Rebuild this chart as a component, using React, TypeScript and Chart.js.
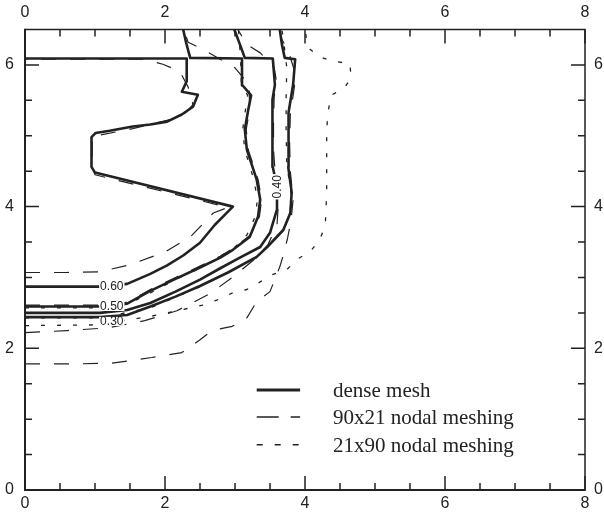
import { useEffect, useRef } from "react";
import { Chart, registerables } from "chart.js";

Chart.register(...registerables);

type Pt = [number, number];

// axes
const xTickLabels = [0, 2, 4, 6, 8];
const yTickLabels = [0, 2, 4, 6];
const xRange: Pt = [0, 8];
const yRange: Pt = [0, 6.5];
const minorStep = 0.5;

const seriesNames = ["dense mesh", "90x21 nodal meshing", "21x90 nodal meshing"];

// dense mesh contours
const dense060: Pt[] = [
  [0, 2.87], [1.07, 2.87], [1.46, 2.91], [1.79, 3.05], [2.03, 3.17], [2.26, 3.31], [2.5, 3.49],
  [2.71, 3.74], [2.85, 3.88], [2.97, 4.0], [1.0, 4.48], [0.95, 4.56], [0.95, 4.98], [1.01, 5.04],
  [1.21, 5.07], [1.54, 5.13], [1.79, 5.16], [2.03, 5.2], [2.24, 5.3], [2.4, 5.41], [2.47, 5.58],
  [2.24, 5.62], [2.31, 5.77], [2.31, 6.09], [0, 6.09],
];
const dense050: Pt[] = [
  [0, 2.59], [1.07, 2.59], [1.46, 2.63], [1.79, 2.81], [2.15, 2.98], [2.5, 3.14], [2.79, 3.28],
  [2.97, 3.39], [3.21, 3.57], [3.33, 3.86], [3.36, 4.1], [3.31, 4.38], [3.17, 4.8], [3.14, 5.09],
  [3.19, 5.37], [3.23, 5.57], [3.11, 5.71], [3.1, 6.09], [2.36, 6.1], [2.3, 6.32], [2.26, 6.5],
];
const dense040: Pt[] = [
  [0, 2.5], [1.07, 2.5], [1.46, 2.54], [1.79, 2.64], [2.15, 2.8], [2.5, 2.97], [2.79, 3.13],
  [3.07, 3.28], [3.36, 3.43], [3.5, 3.63], [3.6, 3.96], [3.6, 4.28], [3.54, 4.56], [3.53, 5.04],
  [3.54, 5.51], [3.57, 5.72], [3.54, 6.09], [3.14, 6.1], [3.07, 6.29], [2.99, 6.5],
];
const dense030: Pt[] = [
  [0, 2.44], [1.07, 2.44], [1.46, 2.47], [1.79, 2.59], [2.15, 2.73], [2.5, 2.88], [2.9, 3.07],
  [3.31, 3.29], [3.46, 3.43], [3.69, 3.67], [3.79, 3.91], [3.81, 4.2], [3.76, 4.56], [3.76, 5.04],
  [3.77, 5.33], [3.83, 5.72], [3.86, 6.08], [3.71, 6.1], [3.67, 6.29], [3.64, 6.5],
];

// 90x21 nodal meshing contours
const mesh90a: Pt[] = [
  [0, 3.07], [0.6, 3.07], [1.07, 3.08], [1.5, 3.18], [2.0, 3.36], [2.36, 3.57], [2.69, 3.91],
  [2.9, 3.99], [1.0, 4.45], [0.96, 4.56], [0.96, 4.99], [1.54, 5.1], [2.24, 5.27], [2.4, 5.44],
  [2.33, 5.69], [2.21, 5.91], [1.97, 6.01], [1.71, 6.08], [0, 6.08],
];
const mesh90b: Pt[] = [
  [0, 2.61], [1.07, 2.61], [1.46, 2.65], [1.79, 2.83], [2.15, 3.0], [2.5, 3.16], [2.79, 3.3],
  [2.97, 3.41], [3.21, 3.59], [3.35, 3.86], [3.38, 4.1], [3.33, 4.38], [3.19, 4.8], [3.16, 5.09],
  [3.21, 5.37], [3.2, 5.72], [3.0, 5.96], [2.54, 6.22], [2.33, 6.32], [2.27, 6.5],
];
const mesh90c: Pt[] = [
  [0, 2.22], [0.6, 2.25], [1.19, 2.29], [1.71, 2.39], [2.17, 2.53], [2.64, 2.77], [2.99, 3.02],
  [3.27, 3.25], [3.47, 3.46], [3.6, 3.74], [3.62, 4.05], [3.58, 4.4], [3.55, 4.8], [3.55, 5.2],
  [3.56, 5.55], [3.59, 5.78], [3.56, 5.96], [3.36, 6.17], [3.17, 6.29], [3.04, 6.5],
];
const mesh90d: Pt[] = [
  [0, 1.78], [0.71, 1.78], [1.24, 1.79], [1.81, 1.87], [2.24, 1.94], [2.5, 2.12], [2.67, 2.25],
  [2.96, 2.31], [3.17, 2.43], [3.31, 2.66], [3.5, 2.8], [3.64, 3.15], [3.7, 3.35], [3.75, 3.55],
  [3.8, 3.8], [3.83, 4.1], [3.79, 4.5], [3.78, 4.9], [3.79, 5.3], [3.85, 5.7], [3.84, 5.95],
  [3.77, 6.17], [3.66, 6.38], [3.64, 6.5],
];

// 21x90 nodal meshing contours
const mesh21a: Pt[] = [
  [0, 2.32], [1.0, 2.33], [1.79, 2.45], [2.36, 2.57], [2.54, 2.61], [2.74, 2.68], [2.96, 2.78],
  [3.17, 2.83], [3.33, 2.92], [3.53, 3.04], [3.74, 3.11], [3.89, 3.26], [4.07, 3.36], [4.21, 3.53],
  [4.29, 3.74], [4.31, 4.2], [4.31, 5.09], [4.33, 5.33], [4.37, 5.57], [4.56, 5.67], [4.66, 5.82],
  [4.64, 6.02], [4.41, 6.05], [4.19, 6.12], [4.04, 6.25], [4.0, 6.5],
];
const mesh21b: Pt[] = [
  [0, 2.57], [1.07, 2.57], [1.46, 2.62], [1.79, 2.78], [2.15, 2.97], [2.5, 3.13], [2.79, 3.3],
  [3.0, 3.43], [3.17, 3.6], [3.29, 3.86], [3.32, 4.1], [3.27, 4.38], [3.14, 4.8], [3.11, 5.09],
  [3.15, 5.37], [3.18, 5.57], [3.09, 5.75], [3.08, 6.09], [3.05, 6.5],
];
const mesh21c: Pt[] = [
  [0, 2.43], [1.07, 2.43], [1.79, 2.57], [2.5, 2.87], [3.31, 3.28], [3.69, 3.66], [3.79, 3.91],
  [3.8, 4.2], [3.74, 4.59], [3.73, 5.09], [3.73, 5.54], [3.74, 5.96], [3.7, 6.29], [3.67, 6.5],
];

// contour level labels
const contourLabels = [
  { text: "0.60", x: 1.24, y: 2.87, rot: 0 },
  { text: "0.50", x: 1.24, y: 2.59, rot: 0 },
  { text: "0.30", x: 1.24, y: 2.38, rot: 0 },
  { text: "0.40", x: 3.6, y: 4.28, rot: -Math.PI / 2 },
];

// legend rows (data coords)
const legendX: Pt = [3.31, 3.93];
const legendTextX = 4.4;
const legendY = [1.41, 1.03, 0.64];

const INK = "#222";
const DASH = [15, 14];
const DOT = [4, 12];

const styleOf = (k: number) =>
  k === 0
    ? { borderWidth: 2.6, borderDash: [] as number[] }
    : k === 1
    ? { borderWidth: 1.2, borderDash: DASH }
    : { borderWidth: 1.3, borderDash: DOT };

const mk = (data: Pt[], k: number) => ({
  label: seriesNames[k],
  data: data.map(([x, y]) => ({ x, y })),
  showLine: true,
  pointRadius: 0,
  pointHoverRadius: 0,
  borderColor: INK,
  backgroundColor: INK,
  borderCapStyle: "butt",
  borderJoinStyle: "round",
  fill: false,
  tension: 0,
  ...styleOf(k),
});

const decorations = {
  id: "decorations",
  afterDatasetsDraw(chart: any) {
    const { ctx, chartArea: a, scales } = chart;
    const sx = scales.x;
    const sy = scales.y;
    ctx.save();

    // contour labels
    ctx.font = "12px 'Liberation Sans', Arial, sans-serif";
    ctx.textAlign = "center";
    ctx.textBaseline = "middle";
    for (const l of contourLabels) {
      const px = sx.getPixelForValue(l.x);
      const py = sy.getPixelForValue(l.y);
      ctx.save();
      ctx.translate(px, py);
      ctx.rotate(l.rot);
      const w = ctx.measureText(l.text).width + 2;
      ctx.fillStyle = "#fff";
      ctx.fillRect(-w / 2, -4.5, w, 9);
      ctx.fillStyle = INK;
      ctx.fillText(l.text, 0, 0.5);
      ctx.restore();
    }

    // legend
    ctx.font = "21px 'Liberation Serif', 'Times New Roman', serif";
    ctx.textAlign = "left";
    ctx.textBaseline = "alphabetic";
    seriesNames.forEach((name, k) => {
      const y = sy.getPixelForValue(legendY[k]);
      const st = styleOf(k);
      ctx.strokeStyle = INK;
      ctx.lineWidth = k === 0 ? 3 : st.borderWidth + 0.2;
      ctx.setLineDash(k === 1 ? [22, 12] : k === 2 ? [6, 12] : []);
      ctx.beginPath();
      ctx.moveTo(sx.getPixelForValue(legendX[0]), y);
      ctx.lineTo(sx.getPixelForValue(legendX[1]), y);
      ctx.stroke();
      ctx.setLineDash([]);
      ctx.fillStyle = INK;
      ctx.fillText(name, sx.getPixelForValue(legendTextX), y + 7);
    });

    // frame
    ctx.strokeStyle = INK;
    ctx.lineWidth = 1.5;
    ctx.beginPath();
    ctx.moveTo(a.left, a.top);
    ctx.lineTo(a.right, a.top);
    ctx.lineTo(a.right, a.bottom);
    ctx.stroke();
    ctx.lineWidth = 2;
    ctx.beginPath();
    ctx.moveTo(a.left, a.top - 0.75);
    ctx.lineTo(a.left, a.bottom);
    ctx.lineTo(a.right + 0.75, a.bottom);
    ctx.stroke();

    // inward ticks
    ctx.lineWidth = 1.5;
    ctx.beginPath();
    for (let v = xRange[0]; v <= xRange[1] + 1e-9; v += minorStep) {
      const len = xTickLabels.includes(v) ? 14 : 7;
      const px = sx.getPixelForValue(v);
      ctx.moveTo(px, a.bottom);
      ctx.lineTo(px, a.bottom - len);
      ctx.moveTo(px, a.top);
      ctx.lineTo(px, a.top + len);
    }
    for (let v = yRange[0]; v <= yRange[1] - 0.25; v += minorStep) {
      const len = yTickLabels.includes(v) ? 14 : 7;
      const py = sy.getPixelForValue(v);
      ctx.moveTo(a.left, py);
      ctx.lineTo(a.left + len, py);
      ctx.moveTo(a.right, py);
      ctx.lineTo(a.right - len, py);
    }
    ctx.stroke();
    ctx.restore();
  },
};

const tickFont = { family: "'Liberation Sans', Arial, Helvetica, sans-serif", size: 16 };

const axis = (position: string, isX: boolean, size: number, padding: number) => ({
  type: "linear",
  position,
  min: isX ? xRange[0] : yRange[0],
  max: isX ? xRange[1] : yRange[1],
  grid: { display: false, drawTicks: false },
  border: { display: false },
  ticks: {
    padding,
    font: tickFont,
    color: INK,
    maxRotation: 0,
    autoSkip: false,
    callback: (v: number) => String(v),
  },
  afterBuildTicks: (s: any) => {
    s.ticks = (isX ? xTickLabels : yTickLabels).map((value) => ({ value }));
  },
  afterFit: (s: any) => {
    if (isX) s.height = size;
    else s.width = size;
  },
});

export default function App() {
  const ref = useRef<HTMLCanvasElement>(null);
  useEffect(() => {
    const chart = new Chart(ref.current as HTMLCanvasElement, {
      type: "scatter",
      data: {
        datasets: [
          mk(dense060, 0),
          mk(dense050, 0),
          mk(dense040, 0),
          mk(dense030, 0),
          mk(mesh90a, 1),
          mk(mesh90b, 1),
          mk(mesh90c, 1),
          mk(mesh90d, 1),
          mk(mesh21a, 2),
          mk(mesh21b, 2),
          mk(mesh21c, 2),
        ] as any,
      },
      options: {
        animation: false,
        responsive: true,
        maintainAspectRatio: false,
        layout: { padding: 0 },
        plugins: { legend: { display: false }, tooltip: { enabled: false } },
        scales: {
          x: axis("bottom", true, 25, 3.5),
          x2: axis("top", true, 29.5, 7),
          y: axis("left", false, 25, 11),
          y2: axis("right", false, 19, 9),
        } as any,
      },
      plugins: [decorations],
    });
    return () => chart.destroy();
  }, []);
  return (
    <div style={{ position: "absolute", left: 0, top: 0, width: 604, height: 515, background: "#fff" }}>
      <canvas ref={ref} />
    </div>
  );
}
